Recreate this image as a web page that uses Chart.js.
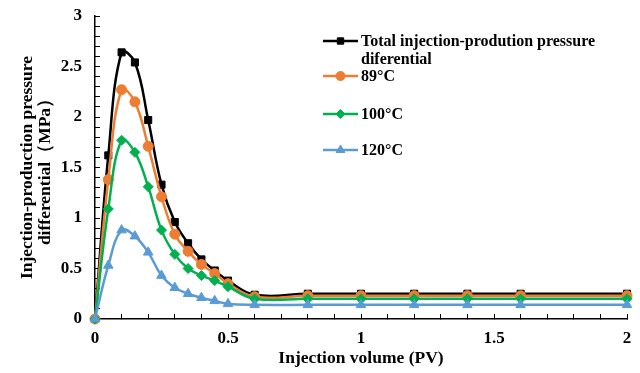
<!DOCTYPE html>
<html>
<head>
<meta charset="utf-8">
<script src="https://cdn.jsdelivr.net/npm/chart.js@4.4.1/dist/chart.umd.min.js"></script>
<style>
  html, body { margin: 0; padding: 0; background: #fff; }
  #wrap { width: 640px; height: 373px; position: relative; }
</style>
</head>
<body>
<div id="wrap"><canvas id="c"></canvas></div>
<script>
// ---- Data ----
const injectionPV = [0, 0.05, 0.1, 0.15, 0.2, 0.25, 0.3, 0.35, 0.4, 0.45, 0.5, 0.6, 0.8, 1.0, 1.2, 1.4, 1.6, 2.0];
const totalDiff  = [0, 1.62, 2.64, 2.54, 1.97, 1.33, 0.96, 0.75, 0.59, 0.48, 0.38, 0.24, 0.25, 0.25, 0.25, 0.25, 0.25, 0.25];
const diff89C    = [0, 1.38, 2.27, 2.15, 1.71, 1.21, 0.84, 0.67, 0.54, 0.45, 0.35, 0.22, 0.23, 0.23, 0.23, 0.23, 0.23, 0.23];
const diff100C   = [0, 1.09, 1.77, 1.65, 1.31, 0.88, 0.64, 0.50, 0.43, 0.38, 0.32, 0.20, 0.20, 0.20, 0.20, 0.20, 0.20, 0.20];
const diff120C   = [0, 0.53, 0.88, 0.82, 0.66, 0.43, 0.31, 0.25, 0.21, 0.18, 0.15, 0.14, 0.14, 0.14, 0.14, 0.14, 0.14, 0.14];
const seriesNames = ['Total injection-prodution pressure diferential', '89\u00B0C', '100\u00B0C', '120\u00B0C'];
const legendLines = [['Total injection-prodution pressure', 'diferential'], ['89\u00B0C'], ['100\u00B0C'], ['120\u00B0C']];
const xTitle = 'Injection volume (PV)';
const yTitle = ['Injection-production pressure', 'differential\uFF08MPa\uFF09'];

const FONT = '"Liberation Serif", "Times New Roman", serif';
const toXY = arr => arr.map((v, i) => ({ x: injectionPV[i], y: v }));

const styles = [
  { color: '#000000', pointStyle: 'rect',     radius: 5 },
  { color: '#ED7D31', pointStyle: 'circle',   radius: 5 },
  { color: '#00B050', pointStyle: 'rectRot',  radius: 5 },
  { color: '#5B9BD5', pointStyle: 'triangle', radius: 5.5 }
];
const allSeries = [totalDiff, diff89C, diff100C, diff120C];

const datasets = allSeries.map((s, i) => ({
  label: seriesNames[i],
  data: toXY(s),
  borderColor: styles[i].color,
  backgroundColor: styles[i].color,
  pointBackgroundColor: styles[i].color,
  pointBorderColor: styles[i].color,
  pointStyle: styles[i].pointStyle,
  pointRadius: styles[i].radius,
  pointBorderWidth: 1,
  borderWidth: 2.5,
  tension: 0.4,
  clip: false,
  order: 3 - i
}));

// custom legend drawn inside the plot area
const legendPlugin = {
  id: 'innerLegend',
  afterDraw(chart) {
    const ctx = chart.ctx;
    ctx.save();
    const x0 = 323, x1 = 358, tx = 361;
    const ys = [41, 76, 114, 150];
    chart.data.datasets.forEach((ds, i) => {
      const y = ys[i];
      ctx.strokeStyle = ds.borderColor;
      ctx.fillStyle = ds.backgroundColor;
      ctx.lineWidth = 2.5;
      ctx.beginPath(); ctx.moveTo(x0, y); ctx.lineTo(x1, y); ctx.stroke();
      ctx.lineWidth = 1;
      Chart.helpers.drawPoint(ctx, { pointStyle: ds.pointStyle, radius: ds.pointRadius - 0.5, rotation: 0, borderWidth: 1 }, (x0 + x1) / 2, y);
      ctx.fillStyle = '#000';
      ctx.font = 'bold 16px ' + FONT;
      ctx.textBaseline = 'middle';
      ctx.textAlign = 'left';
      legendLines[i].forEach((t, k) => ctx.fillText(t, tx, y + 1 + k * 18));
    });
    ctx.restore();
  }
};

new Chart(document.getElementById('c'), {
  type: 'line',
  data: { datasets },
  options: {
    responsive: true,
    maintainAspectRatio: false,
    animation: false,
    devicePixelRatio: 1,
    layout: { padding: { left: 0, right: 13, top: 16, bottom: 0 } },
    plugins: { legend: { display: false }, tooltip: { enabled: false } },
    scales: {
      x: {
        type: 'linear',
        min: 0, max: 2,
        ticks: {
          stepSize: 0.1,
          autoSkip: false,
          maxRotation: 0,
          padding: 14,
          color: '#000',
          font: { family: FONT, size: 17, weight: 'bold' },
          callback: v => (Math.round(v * 10) % 5 === 0 ? String(Math.round(v * 10) / 10) : '')
        },
        grid: { drawOnChartArea: false, tickLength: -5, color: '#000', tickColor: '#000', lineWidth: 1 },
        border: { display: true, color: '#000', width: 1.5 },
        title: { display: true, text: xTitle, color: '#000', font: { family: FONT, size: 17.5, weight: 'bold' }, padding: { top: 0, bottom: 4 } },
        afterFit(scale) { scale.height = 54; scale.paddingLeft = 0; scale.paddingRight = 0; }
      },
      y: {
        type: 'linear',
        min: 0, max: 3,
        ticks: {
          stepSize: 0.1,
          autoSkip: false,
          padding: 18,
          color: '#000',
          font: { family: FONT, size: 17, weight: 'bold' },
          callback: v => (Math.round(v * 10) % 5 === 0 ? String(Math.round(v * 10) / 10) : '')
        },
        grid: { drawOnChartArea: false, tickLength: -5, color: '#000', tickColor: '#000', lineWidth: 1 },
        border: { display: true, color: '#000', width: 1.5 },
        title: { display: true, text: yTitle, color: '#000', font: { family: FONT, size: 17.5, weight: 'bold', lineHeight: 1.05 }, padding: { top: 18, bottom: 0 } },
        afterFit(scale) { scale.width = 95; scale.paddingTop = 0; scale.paddingBottom = 0; }
      }
    }
  },
  plugins: [legendPlugin]
});
</script>
</body>
</html>
